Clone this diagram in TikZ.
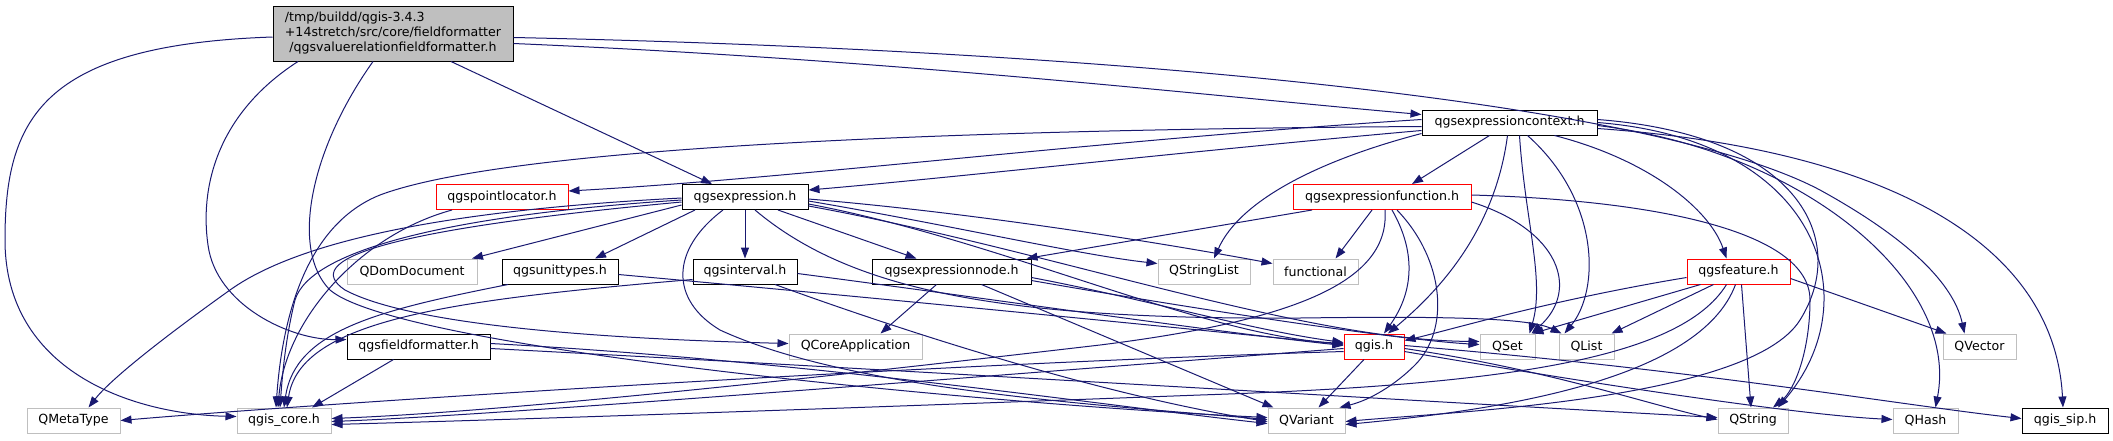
\documentclass[tikz,border=0pt]{standalone}
\usepackage{fontspec}
\setmainfont{DejaVu Sans}
\usetikzlibrary{arrows.meta}
\definecolor{edgec}{HTML}{191970}
\definecolor{grayb}{HTML}{BFBFBF}
\definecolor{redb}{HTML}{FF0000}
\begin{document}
\begin{tikzpicture}[x=1pt,y=-1pt,
  box/.style={draw, line width=1pt, fill=white, inner sep=0pt, minimum height=25pt,
    font=\fontsize{12.6}{15}\selectfont, text=black},
  blk/.style={box, draw=black},
  rd/.style={box, draw=redb},
  gr/.style={box, draw=grayb},
  e/.style={draw=edgec, line width=1pt, -{Triangle[length=11pt,width=8pt]}}
]
\useasboundingbox (0,0) rectangle (2113,440);
% nodes
\node[blk, fill=grayb, minimum width=240pt, minimum height=55pt, align=center] (main) at (393,33.5)
  {\rlap{/tmp/buildd/qgis-3.4.3}\phantom{+14stretch/src/core/fieldformatter}\\+14stretch/src/core/fieldformatter\\/qgsvaluerelationfieldformatter.h};
\node[blk, minimum width=175pt] (ctx) at (1509.5,122.5) {qgsexpressioncontext.h};
\node[rd, minimum width=132pt] (ploc) at (502,197) {qgspointlocator.h};
\node[blk, minimum width=126pt] (expr) at (745,197) {qgsexpression.h};
\node[rd, minimum width=178pt] (efun) at (1382,197) {qgsexpressionfunction.h};
\node[gr, minimum width=130pt] (qdom) at (412,271.5) {QDomDocument};
\node[blk, minimum width=116pt] (units) at (560,271.5) {qgsunittypes.h};
\node[blk, minimum width=104pt] (intv) at (745,271.5) {qgsinterval.h};
\node[blk, minimum width=159pt] (enode) at (951.5,271.5) {qgsexpressionnode.h};
\node[gr, minimum width=92pt] (qsl) at (1204,271.5) {QStringList};
\node[gr, minimum width=85pt] (func) at (1315.5,271.5) {functional};
\node[rd, minimum width=103pt] (feat) at (1738.5,271.5) {qgsfeature.h};
\node[blk, minimum width=143pt] (ffmt) at (418.5,346.5) {qgsfieldformatter.h};
\node[gr, minimum width=133pt] (qca) at (855.5,346.5) {QCoreApplication};
\node[rd, minimum width=60pt] (qgis) at (1374,346.5) {qgis.h};
\node[gr, minimum width=55pt] (qset) at (1507.5,346.5) {QSet};
\node[gr, minimum width=55pt] (qlist) at (1586.5,346.5) {QList};
\node[gr, minimum width=73pt] (qvec) at (1979.5,346.5) {QVector};
\node[gr, minimum width=93pt] (qmeta) at (73.5,420.5) {QMetaType};
\node[gr, minimum width=94pt] (core) at (284,420.5) {qgis\_core.h};
\node[gr, minimum width=77pt] (qvar) at (1306.5,420.5) {QVariant};
\node[gr, minimum width=70pt] (qstr) at (1753,420.5) {QString};
\node[gr, minimum width=65pt] (qhash) at (1925.5,420.5) {QHash};
\node[blk, minimum width=86pt] (sip) at (2065,420.5) {qgis\_sip.h};
% main
\draw[e] ([yshift=-3.5pt]main.west) .. controls (40,45) and (5,120) .. (5,240) .. controls (5,370) and (130,414) .. ([yshift=4pt]core.west);
\draw[e] ([xshift=-95pt]main.south) .. controls (215,115) and (200,190) .. (208,245) .. controls (216,305) and (290,340) .. ([yshift=7pt]ffmt.west);
\draw[e] ([xshift=-20pt]main.south) .. controls (310,150) and (290,250) .. (330,290) .. controls (400,350) and (1000,405) .. ([yshift=3pt]qvar.west);
\draw[e] ([xshift=58pt]main.south) -- ([xshift=-33pt]expr.north);
\draw[e] ([yshift=-10pt]main.east) .. controls (900,60) and (1200,95) .. ([yshift=8pt]ctx.west);
\draw[e] ([yshift=-4pt]main.east) .. controls (1100,50) and (1650,100) .. (1820,190) .. controls (1920,245) and (1955,290) .. ([xshift=-15pt]qvec.north);
% ctx
\draw[e] ([yshift=3pt]ctx.west) .. controls (1100,140) and (800,178) .. ([yshift=6pt]ploc.east);
\draw[e] ([yshift=-8pt]ctx.west) .. controls (1200,150) and (950,178) .. ([yshift=7pt]expr.east);
\draw[e] ([yshift=-4pt]ctx.west) .. controls (900,130) and (500,150) .. (380,195) .. controls (305,225) and (282,320) .. ([xshift=-8pt]core.north);
\draw[e] ([xshift=-20pt]ctx.south) -- ([xshift=30pt]efun.north);
\draw[e] ([yshift=-11pt]ctx.west) .. controls (1320,160) and (1240,200) .. ([xshift=10pt]qsl.north);
\draw[e] ([xshift=-2pt]ctx.south) .. controls (1495,230) and (1440,290) .. ([xshift=14pt]qgis.north);
\draw[e] ([xshift=10pt]ctx.south) .. controls (1525,220) and (1545,280) .. ([xshift=22pt]qset.north);
\draw[e] ([xshift=18pt]ctx.south) .. controls (1600,200) and (1600,290) .. ([xshift=-22pt]qlist.north);
\draw[e] ([xshift=45pt]ctx.south) .. controls (1650,160) and (1710,210) .. ([xshift=-12pt]feat.north);
\draw[e] ([yshift=3pt]ctx.east) .. controls (1800,135) and (1850,240) .. (1800,320) .. controls (1750,400) and (1450,412) .. ([yshift=-1pt]qvar.east);
\draw[e] (ctx.east) .. controls (1820,140) and (1870,300) .. ([xshift=25pt]qstr.north);
\draw[e] ([yshift=-3pt]ctx.east) .. controls (1800,150) and (1960,280) .. ([xshift=10pt]qhash.north);
\draw[e] ([yshift=-6pt]ctx.east) .. controls (1900,150) and (2055,250) .. ([xshift=-2pt]sip.north);
% ploc
\draw[e] ([xshift=-50pt]ploc.south) .. controls (360,235) and (285,320) .. ([xshift=-6pt]core.north);
% expr
\draw[e] ([yshift=-8pt]expr.west) -- ([xshift=60pt]qdom.north);
\draw[e] ([xshift=-50pt]expr.south) -- ([xshift=35pt]units.north);
\draw[e] (expr.south) -- (intv.north);
\draw[e] ([xshift=33pt]expr.south) -- ([xshift=-35pt]enode.north);
\draw[e] ([yshift=-4pt]expr.east) .. controls (950,225) and (1080,255) .. ([yshift=8pt]qsl.west);
\draw[e] ([yshift=-2pt]expr.east) .. controls (1000,215) and (1200,250) .. ([yshift=8pt]func.west);
\draw[e] ([yshift=-7pt]expr.east) .. controls (1000,240) and (1200,335) .. ([yshift=3pt]qgis.west);
\draw[e] ([yshift=-9pt]expr.east) .. controls (1050,250) and (1300,340) .. ([yshift=5pt]qset.west);
\draw[e] ([xshift=10pt]expr.south) .. controls (850,290) and (1000,320) .. (1300,318) .. controls (1450,316) and (1530,318) .. ([xshift=-25pt]qlist.north);
\draw[e] ([yshift=-1pt]expr.west) .. controls (450,210) and (300,240) .. (230,290) .. controls (160,340) and (110,380) .. ([xshift=15pt]qmeta.north);
\draw[e] ([yshift=-3pt]expr.west) .. controls (450,215) and (310,250) .. (295,300) .. controls (285,340) and (282,380) .. ([xshift=-4pt]core.north);
\draw[e] ([yshift=-5pt]expr.west) .. controls (380,230) and (300,260) .. (345,290) .. controls (420,330) and (650,340) .. ([yshift=3pt]qca.west);
\draw[e] ([xshift=-22pt]expr.south) .. controls (670,250) and (670,300) .. (720,330) .. controls (850,390) and (1100,405) .. ([yshift=1pt]qvar.west);
% units
\draw[e] ([xshift=-52pt]units.south) .. controls (380,310) and (295,330) .. ([xshift=0pt]core.north);
\draw[e] ([yshift=-3pt]units.east) .. controls (900,300) and (1200,330) .. ([yshift=2pt]qgis.west);
% interval
\draw[e] ([yshift=-8pt]intv.west) .. controls (450,300) and (300,320) .. ([xshift=3pt]core.north);
\draw[e] ([yshift=-2pt]intv.east) .. controls (1000,300) and (1200,330) .. ([yshift=1pt]qgis.west);
\draw[e] ([xshift=30pt]intv.south) .. controls (900,330) and (1100,395) .. ([yshift=-1pt]qvar.west);
% enode
\draw[e] ([xshift=-15pt]enode.south) -- ([xshift=25pt]qca.north);
\draw[e] ([xshift=30pt]enode.south) -- ([xshift=-33pt]qvar.north);
\draw[e] ([yshift=-6pt]enode.east) .. controls (1150,300) and (1250,330) .. ([yshift=4pt]qgis.west);
\draw[e] ([yshift=-9pt]enode.east) .. controls (1200,310) and (1400,340) .. ([yshift=2pt]qset.west);
% ffmt
\draw[e] ([xshift=-25pt]ffmt.south) -- ([xshift=28pt]core.north);
\draw[e] ([yshift=3pt]ffmt.east) .. controls (800,360) and (1100,405) .. ([yshift=-3pt]qvar.west);
\draw[e] ([yshift=-2pt]ffmt.east) .. controls (900,370) and (1400,400) .. ([yshift=3pt]qstr.west);
% qgis
\draw[e] ([xshift=-10pt]qgis.south) -- ([xshift=12pt]qvar.north);
\draw[e] ([yshift=-2pt]qgis.west) .. controls (1000,375) and (500,415) .. ([yshift=-1pt]core.east);
\draw[e] ([yshift=-5pt]qgis.west) .. controls (900,365) and (300,405) .. (qmeta.east);
\draw[e] ([yshift=-2pt]qgis.east) .. controls (1550,370) and (1650,405) .. ([yshift=1pt]qstr.west);
\draw[e] ([yshift=-5pt]qgis.east) .. controls (1600,385) and (1800,415) .. ([yshift=1pt]qhash.west);
\draw[e] ([yshift=1pt]qgis.east) .. controls (1700,370) and (1900,405) .. ([yshift=2pt]sip.west);
% feature
\draw[e] ([yshift=-6pt]feat.west) .. controls (1550,300) and (1450,330) .. ([yshift=6pt]qgis.east);
\draw[e] ([xshift=-38pt]feat.south) -- ([xshift=25pt]qset.north);
\draw[e] ([xshift=-25pt]feat.south) -- ([xshift=25pt]qlist.north);
\draw[e] ([xshift=-12pt]feat.south) .. controls (1680,360) and (1500,385) .. (1200,395) .. controls (800,410) and (500,420) .. ([yshift=-4pt]core.east);
\draw[e] ([xshift=-3pt]feat.south) .. controls (1700,380) and (1500,410) .. ([yshift=-4pt]qvar.east);
\draw[e] ([xshift=3pt]feat.south) -- ([xshift=-2pt]qstr.north);
\draw[e] ([yshift=-7pt]feat.east) -- ([xshift=-33pt]qvec.north);
% efun
\draw[e] ([xshift=-70pt]efun.south) -- ([xshift=75pt]enode.north);
\draw[e] ([xshift=-10pt]efun.south) -- ([xshift=20pt]func.north);
\draw[e] ([xshift=10pt]efun.south) .. controls (1415,250) and (1415,290) .. ([xshift=10pt]qgis.north);
\draw[e] ([xshift=15pt]efun.south) .. controls (1445,260) and (1450,330) .. (1415,365) .. controls (1395,385) and (1370,400) .. ([xshift=33pt]qvar.north);
\draw[e] ([xshift=3pt]efun.south) .. controls (1390,280) and (1300,320) .. (1100,345) .. controls (800,380) and (500,412) .. ([yshift=2pt]core.east);
\draw[e] ([yshift=-5pt]efun.east) .. controls (1560,230) and (1580,290) .. ([xshift=24pt]qset.north);
\draw[e] ([yshift=2pt]efun.east) .. controls (1650,200) and (1810,230) .. (1810,300) .. controls (1810,350) and (1795,390) .. ([xshift=20pt]qstr.north);
\end{tikzpicture}
\end{document}
